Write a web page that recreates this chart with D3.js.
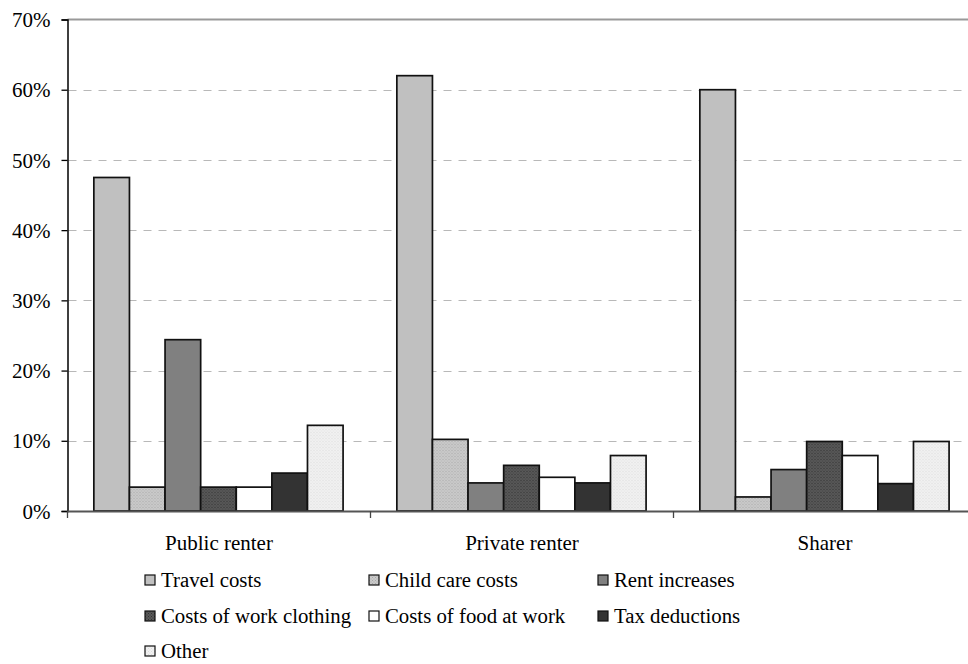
<!DOCTYPE html>
<html>
<head>
<meta charset="utf-8">
<script src="https://cdn.jsdelivr.net/npm/d3@7"></script>
<style>
  html, body { margin: 0; padding: 0; background: #fff; }
  svg { display: block; }
  text { font-family: "Liberation Serif", "Times New Roman", serif; fill: #000; }
</style>
</head>
<body>
<svg id="chart" width="968" height="664"></svg>
<script>
// ---- data ----
const categories = ["Public renter", "Private renter", "Sharer"];
const seriesNames = ["Travel costs", "Child care costs", "Rent increases",
  "Costs of work clothing", "Costs of food at work", "Tax deductions", "Other"];
const travelCosts   = [47.5, 62.0, 60.0];
const childCare     = [3.4, 10.2, 2.0];
const rentIncreases = [24.4, 4.0, 5.9];
const workClothing  = [3.4, 6.5, 9.9];
const foodAtWork    = [3.4, 4.8, 7.9];
const taxDeductions = [5.4, 4.0, 3.9];
const other         = [12.2, 7.9, 9.9];
const yTicks = [0, 10, 20, 30, 40, 50, 60, 70];
const yTickLabels = ["0%", "10%", "20%", "30%", "40%", "50%", "60%", "70%"];

const seriesValues = [travelCosts, childCare, rentIncreases, workClothing, foodAtWork, taxDeductions, other];

// ---- styles ----
const fills = ["#c0c0c0", "url(#dotLight)", "#808080", "url(#dotDark)", "#ffffff", "#333333", "url(#dotPale)"];

const svg = d3.select("#chart");
const defs = svg.append("defs");
function dotPattern(id, bg, dot) {
  const p = defs.append("pattern").attr("id", id).attr("patternUnits", "userSpaceOnUse")
    .attr("width", 3).attr("height", 3);
  p.append("rect").attr("width", 3).attr("height", 3).attr("fill", bg);
  p.append("rect").attr("x", 0).attr("y", 0).attr("width", 1).attr("height", 1).attr("fill", dot);
  p.append("rect").attr("x", 1.5).attr("y", 1.5).attr("width", 1).attr("height", 1).attr("fill", dot);
}
dotPattern("dotLight", "#cbcbcb", "#a8a8a8");
dotPattern("dotDark", "#5a5a5a", "#333333");
dotPattern("dotPale", "#f2f2f2", "#dcdcdc");

const plotLeft = 67.5, plotTop = 19.5, plotBottom = 511;
const groupW = 303;
const plotRight = plotLeft + groupW * categories.length;

const y = d3.scaleLinear().domain([0, 70]).range([plotBottom, plotTop]);
const x0 = d3.scaleBand().domain(categories).range([plotLeft, plotRight]).padding(0);
const x1 = d3.scaleBand().domain(seriesNames).range([0, x0.bandwidth()])
  .paddingInner(0).paddingOuter(0.755).align(0.49);

// gridlines
svg.append("g").selectAll("line").data(yTicks.filter(t => t > 0 && t < 70)).join("line")
  .attr("x1", plotLeft + 1).attr("x2", plotRight)
  .attr("y1", d => Math.round(y(d)) + 0.5).attr("y2", d => Math.round(y(d)) + 0.5)
  .attr("stroke", "#b8b8b8").attr("stroke-width", 1).attr("stroke-dasharray", "8,7");

// top border
svg.append("line").attr("x1", plotLeft).attr("x2", plotRight)
  .attr("y1", y(70)).attr("y2", y(70)).attr("stroke", "#999").attr("stroke-width", 2);

// bars
const groups = svg.append("g").selectAll("g").data(categories).join("g")
  .attr("transform", d => `translate(${x0(d)},0)`);
groups.selectAll("rect")
  .data((c, ci) => seriesNames.map((s, si) => ({ s, si, v: seriesValues[si][ci] })))
  .join("rect")
  .attr("x", d => x1(d.s))
  .attr("width", x1.bandwidth())
  .attr("y", d => y(d.v))
  .attr("height", d => y(0) - y(d.v))
  .attr("fill", d => fills[d.si])
  .attr("stroke", "#111").attr("stroke-width", 1.7);

// y axis
const yAxis = d3.axisLeft(y).tickValues(yTicks).tickFormat((d, i) => yTickLabels[i]).tickSize(6).tickPadding(11);
const gy = svg.append("g").attr("transform", `translate(${plotLeft},0)`).call(yAxis);
gy.select(".domain").attr("stroke", "#000").attr("stroke-width", 1.5);
gy.selectAll(".tick line").attr("stroke", "#000").attr("stroke-width", 1.3);
gy.selectAll("text").attr("font-size", 21).attr("font-family", "Liberation Serif").attr("dy", "0.34em");

// x axis (ticks at group boundaries)
svg.append("line").attr("x1", plotLeft).attr("x2", plotRight)
  .attr("y1", plotBottom + 0.5).attr("y2", plotBottom + 0.5)
  .attr("stroke", "#555").attr("stroke-width", 2);
const boundaries = categories.map(c => x0(c)).concat([plotRight]);
svg.append("g").selectAll("line").data(boundaries).join("line")
  .attr("x1", d => d).attr("x2", d => d)
  .attr("y1", plotBottom).attr("y2", plotBottom + 7)
  .attr("stroke", "#444").attr("stroke-width", 1.3);
svg.append("g").selectAll("text").data(categories).join("text")
  .attr("x", d => x0(d) + x0.bandwidth() / 2)
  .attr("y", 543).attr("dy", "0.34em")
  .attr("text-anchor", "middle").attr("font-size", 21)
  .text(d => d);

// legend
const legendCols = [145, 369, 598];
const legendRows = [580, 616, 651];
const legend = svg.append("g").selectAll("g").data(seriesNames).join("g")
  .attr("transform", (d, i) => `translate(${legendCols[i % 3]},${legendRows[Math.floor(i / 3)]})`);
legend.append("rect").attr("x", 0).attr("y", -5).attr("width", 10).attr("height", 10)
  .attr("fill", (d, i) => fills[i]).attr("stroke", "#111").attr("stroke-width", 1.2);
legend.append("text").attr("x", 16).attr("y", 0).attr("dy", "0.34em")
  .attr("font-size", 20.8).text(d => d);
</script>
</body>
</html>
